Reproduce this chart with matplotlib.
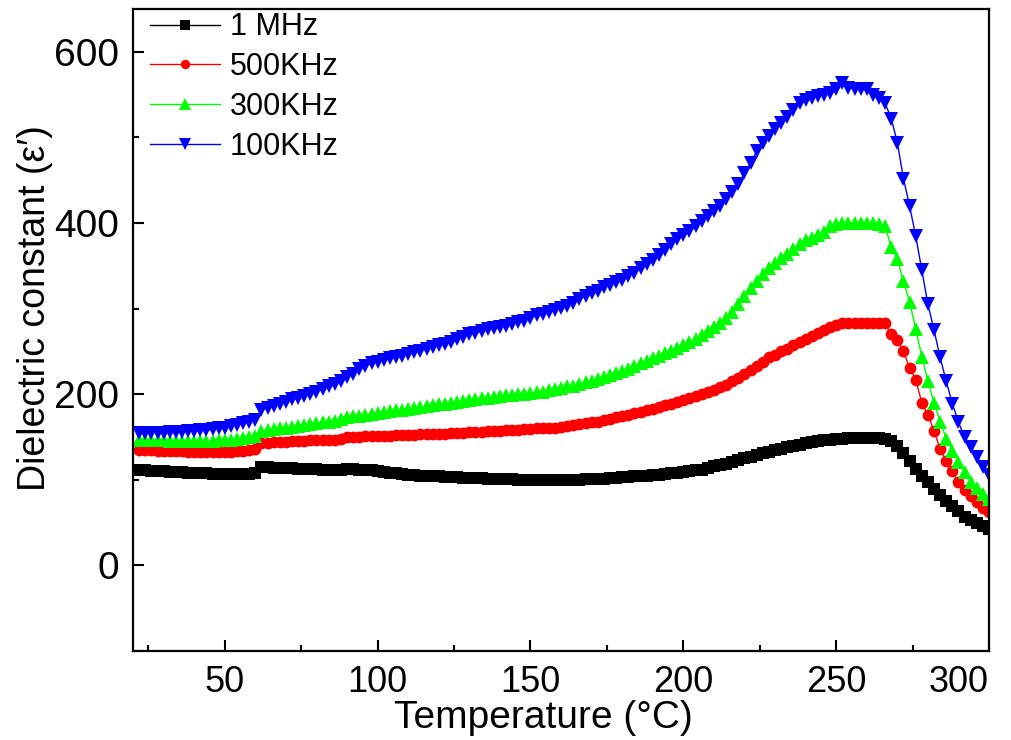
import matplotlib
matplotlib.use("Agg")
import matplotlib.pyplot as plt
from matplotlib.ticker import MultipleLocator

plt.rcParams['font.family'] = ['Liberation Sans', 'DejaVu Sans']

# temperature grid, one reading every 2 degC
temperature = list(range(22, 301, 2))

# dielectric constant, 10 readings per row (22-40, 42-60, ...)
eps_1mhz = [
    111, 111, 110, 110, 110, 109, 109, 109, 108, 108,
    108, 108, 107, 107, 107, 107, 107, 107, 107, 108,
    115, 115, 114, 114, 114, 114, 113, 113, 113, 113,
    112, 112, 112, 112, 113, 113, 112, 112, 111, 110,
    109, 108, 108, 107, 106, 106, 105, 105, 104, 104,
    103, 103, 103, 102, 102, 102, 102, 101, 101, 101,
    101, 101, 100, 100, 100, 100, 100, 100, 100, 100,
    100, 100, 100, 101, 101, 101, 101, 102, 102, 103,
    103, 104, 104, 105, 106, 106, 107, 108, 108, 109,
    110, 111, 112, 114, 116, 117, 119, 121, 123, 125,
    127, 129, 131, 133, 135, 136, 138, 140, 141, 143,
    144, 145, 146, 147, 148, 148, 149, 149, 149, 149,
    149, 149, 148, 145, 139, 131, 122, 113, 105, 97,
    89, 82, 75, 69, 63, 57, 53, 49, 46, 43,
]
eps_500khz = [
    135, 135, 135, 134, 134, 134, 134, 134, 133, 133,
    133, 133, 133, 133, 133, 133, 134, 134, 135, 136,
    143, 143, 144, 144, 144, 145, 145, 145, 146, 146,
    146, 147, 147, 148, 150, 150, 150, 151, 151, 151,
    151, 151, 152, 152, 152, 152, 153, 153, 153, 154,
    154, 155, 155, 155, 156, 156, 156, 157, 157, 157,
    158, 158, 158, 159, 159, 160, 160, 161, 161, 162,
    163, 164, 165, 166, 167, 168, 170, 171, 173, 174,
    176, 178, 179, 181, 183, 185, 187, 189, 191, 193,
    195, 198, 200, 203, 205, 208, 211, 215, 219, 224,
    228, 233, 238, 243, 246, 250, 253, 257, 261, 264,
    268, 271, 275, 279, 281, 283, 283, 283, 283, 283,
    283, 283, 283, 270, 263, 250, 231, 217, 190, 176,
    157, 136, 122, 110, 97, 88, 81, 74, 67, 62,
]
eps_300khz = [
    147, 147, 146, 146, 146, 145, 145, 145, 145, 145,
    145, 145, 145, 146, 146, 147, 148, 149, 150, 151,
    157, 158, 159, 160, 161, 162, 163, 164, 165, 166,
    167, 168, 169, 171, 173, 174, 175, 176, 177, 178,
    179, 180, 181, 182, 183, 184, 185, 186, 187, 188,
    189, 190, 191, 192, 193, 194, 195, 196, 197, 198,
    199, 199, 200, 200, 201, 202, 203, 205, 206, 207,
    209, 210, 212, 214, 216, 218, 220, 222, 225, 227,
    230, 233, 236, 239, 242, 245, 248, 251, 254, 257,
    261, 265, 269, 274, 279, 283, 289, 296, 305, 315,
    324, 332, 340, 347, 353, 359, 364, 370, 376, 380,
    383, 386, 390, 396, 399, 400, 400, 400, 400, 400,
    400, 399, 396, 372, 358, 332, 308, 276, 244, 215,
    190, 168, 148, 134, 121, 109, 98, 90, 83, 77,
]
eps_100khz = [
    155, 155, 155, 155, 155, 156, 156, 156, 157, 157,
    158, 158, 159, 160, 161, 163, 164, 166, 168, 170,
    182, 184, 186, 188, 191, 194, 196, 198, 200, 203,
    206, 209, 212, 215, 220, 224, 229, 233, 236, 238,
    240, 242, 243, 245, 247, 249, 251, 253, 255, 257,
    259, 261, 264, 267, 270, 272, 274, 276, 277, 278,
    280, 282, 284, 286, 289, 292, 294, 296, 298, 301,
    303, 307, 311, 315, 318, 321, 325, 328, 331, 334,
    338, 342, 347, 352, 357, 363, 369, 375, 381, 386,
    391, 396, 402, 408, 414, 420, 428, 436, 446, 458,
    470, 484, 494, 502, 510, 517, 524, 532, 540, 544,
    546, 548, 550, 552, 556, 563, 558, 557, 557, 556,
    550, 546, 540, 522, 494, 452, 420, 385, 345, 305,
    275, 243, 215, 189, 167, 150, 138, 127, 115, 106,
]

series = [eps_1mhz, eps_500khz, eps_300khz, eps_100khz]
labels = ["1 MHz", "500KHz", "300KHz", "100KHz"]
colors = ["black", "#ff0000", "#00ff00", "#0000ff"]
markers = ["s", "o", "^", "v"]
sizes = [8.5, 8.5, 10, 10]

xticks = [50, 100, 150, 200, 250, 300]
yticks = [0, 200, 400, 600]

fig = plt.figure(figsize=(10.11, 7.4), dpi=100)
ax = fig.add_axes([0.1316, 0.1203, 0.8467, 0.8675])

for y, lab, c, m, s in zip(series, labels, colors, markers, sizes):
    ax.plot(temperature, y, color=c, marker=m, ms=s, lw=1, mec=c, mew=0, label=lab)

ax.set_xlim(20, 300)
ax.set_ylim(-100, 650)
ax.set_xticks(xticks)
ax.set_yticks(yticks)
ax.xaxis.set_minor_locator(MultipleLocator(25))
ax.yaxis.set_minor_locator(MultipleLocator(100))

for sp in ax.spines.values():
    sp.set_linewidth(1.6)
ax.tick_params(which='both', direction='in', width=1.5)
ax.tick_params(which='major', length=8)
ax.tick_params(which='minor', length=4.5)
ax.tick_params(axis='x', labelsize=26, pad=10)
ax.tick_params(axis='y', labelsize=28, pad=10)
ax.get_xticklabels()[-1].set_horizontalalignment('right')

ax.set_xlabel("Temperature (°C)", fontsize=28, va='center')
ax.xaxis.set_label_coords(0.479, -0.104)
ax.set_ylabel("Dielectric constant (ε′)", fontsize=27, va='center')
ax.yaxis.set_label_coords(-0.1145, 0.534)

ax.legend(loc='upper left', bbox_to_anchor=(0.02, 0.995), frameon=False,
          fontsize=22, handlelength=2.3, handletextpad=0.3, labelspacing=0.32,
          borderpad=0, borderaxespad=0, markerscale=0.8)

fig.savefig("out.png", dpi=100)
